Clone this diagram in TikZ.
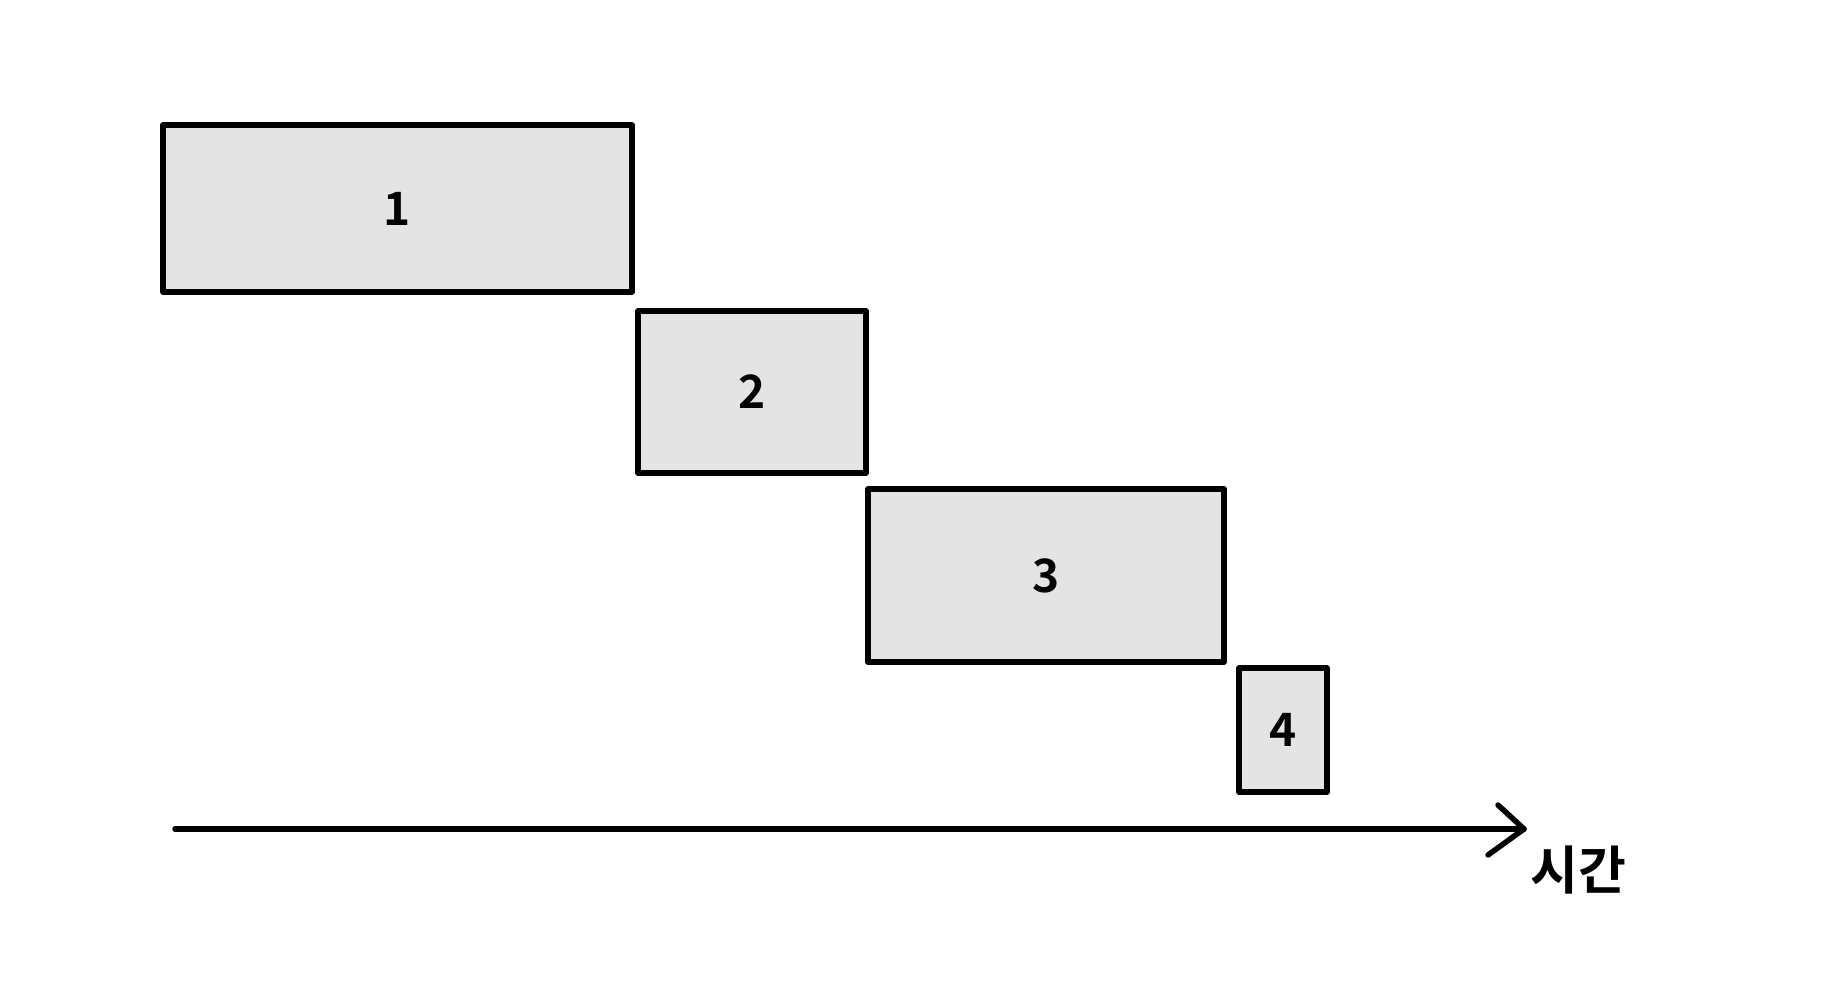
\documentclass[tikz,border=0pt]{standalone}
\usepackage{fontspec}
\newfontfamily\krfont{Noto Sans CJK KR Bold}
\definecolor{boxfill}{HTML}{E4E4E4}
\begin{document}
\begin{tikzpicture}[x=1pt,y=-1pt,
  taskbox/.style={draw=black,line width=5.5pt,fill=boxfill,line join=round,font=\krfont\fontsize{46}{56}\selectfont},
  axisline/.style={line width=5.5pt,line cap=round,line join=round}]
\useasboundingbox (0,0) rectangle (1825,1000);
\draw[taskbox] (163,125) rectangle (632,292) node[midway] (t1) {1};
\draw[taskbox] (638,311) rectangle (866,473) node[midway] (t2) {2};
\draw[taskbox] (868,489) rectangle (1224,662) node[midway] (t3) {3};
\draw[taskbox] (1239,668) rectangle (1327,792) node[midway] (t4) {4};
\coordinate (s) at (175,829);
\coordinate (t) at (1524,829);
\draw[axisline] (s) -- (t);
\draw[axisline] ([shift={(-26,-24)}]t) -- (t) -- ([shift={(-36,26)}]t);
\node[font=\krfont\fontsize{52}{60}\selectfont] (lbl) at (1578,870) {시간};
\end{tikzpicture}
\end{document}
